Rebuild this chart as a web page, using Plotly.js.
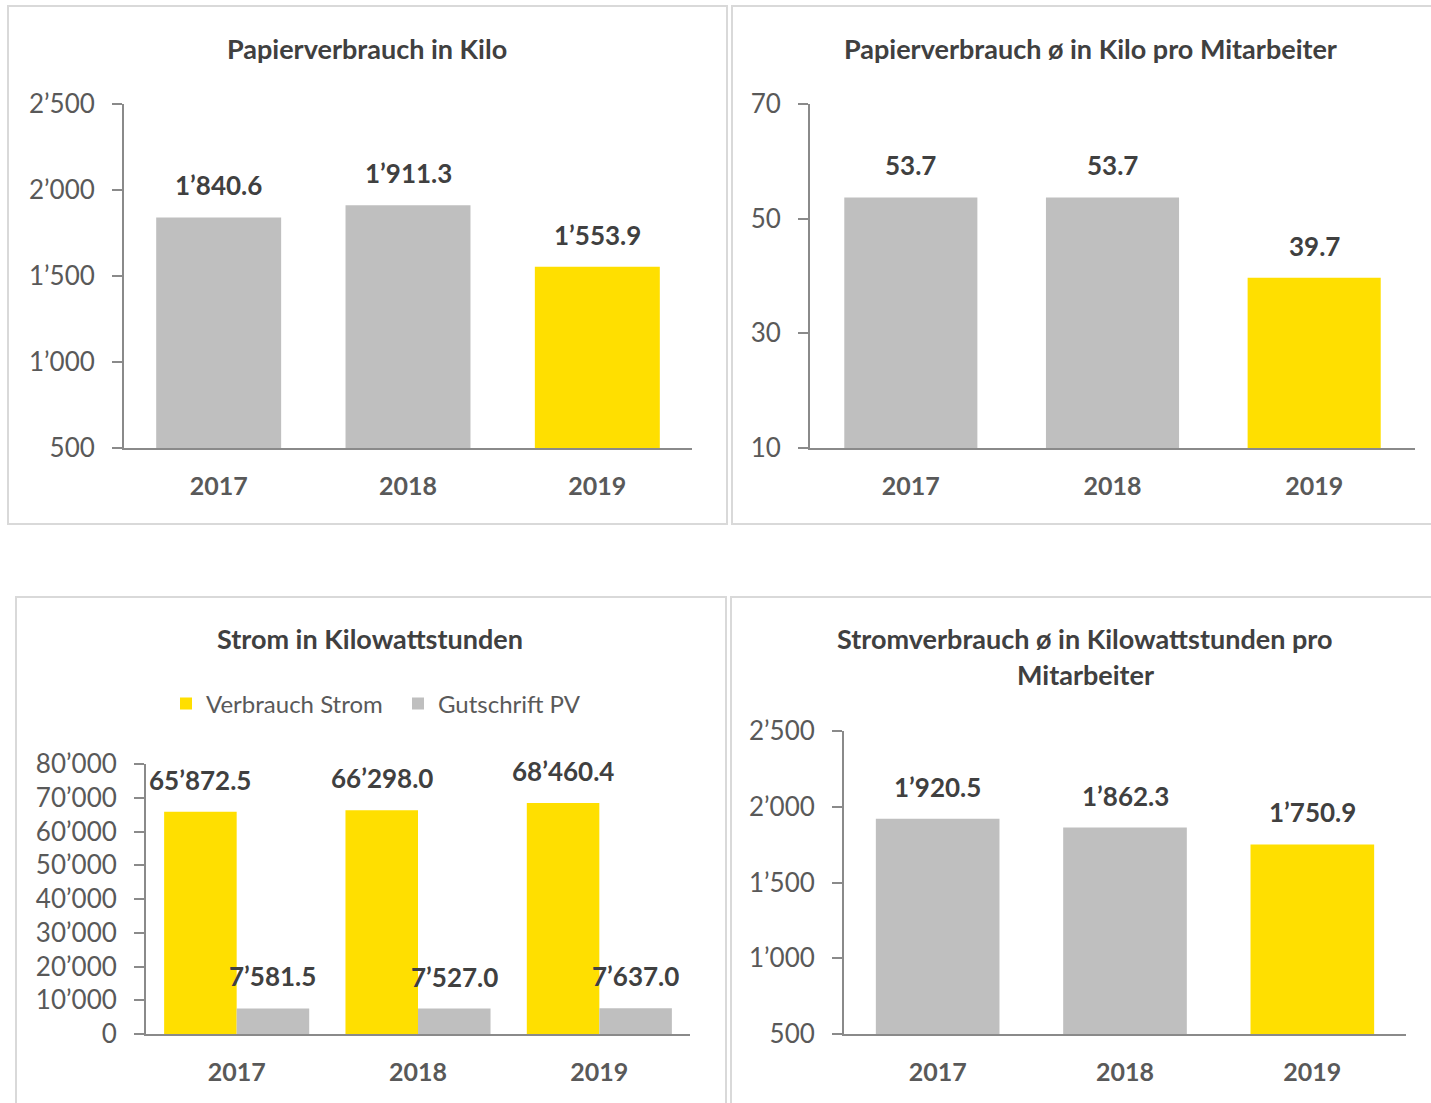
<!DOCTYPE html>
<html><head><meta charset="utf-8">
<script src="https://cdn.plot.ly/plotly-3.0.1.min.js"></script>
<style>html,body{margin:0;padding:0;background:#fff;} #chart{width:1431px;height:1103px;}</style>
</head><body><div id="chart"></div>
<script>
// ---- data ----
const years = ['2017', '2018', '2019'];
const papierKilo = [1840.6, 1911.3, 1553.9];
const papierProMitarbeiter = [53.7, 53.7, 39.7];
const stromVerbrauch = [65872.5, 66298.0, 68460.4];
const gutschriftPV = [7581.5, 7527.0, 7637.0];
const stromProMitarbeiter = [1920.5, 1862.3, 1750.9];
const seriesNames = ['Verbrauch Strom', 'Gutschrift PV'];
const titles = ['Papierverbrauch in Kilo', 'Papierverbrauch ø in Kilo pro Mitarbeiter',
  'Strom in Kilowattstunden', 'Stromverbrauch ø in Kilowattstunden pro', 'Mitarbeiter'];

// ---- style ----
const GRAY = '#BFBFBF', YELLOW = '#FFDF00';
const barColors = [GRAY, GRAY, YELLOW];
const FONT = 'Lato, "Open Sans", sans-serif';
const AXIS = '#8a8a8a';
const TICKCOL = '#595959';
const DARK = '#404040';
const W = 1431, H = 1103;
const px = x => x / W;
const py = y => 1 - y / H;
const BARGAP = 0.2;

function fmt(v) {
  const parts = v.toFixed(1).split('.');
  parts[0] = parts[0].replace(/\B(?=(\d{3})+(?!\d))/g, '\u2019');
  return parts.join('.');
}

function xax(l, r, anchor) {
  return {domain: [px(l), px(r)], anchor: anchor, type: 'category', range: [-0.5, 2.5],
    showline: true, linecolor: AXIS, linewidth: 2, ticks: '', showgrid: false, zeroline: false,
    tickfont: {family: FONT, size: 25, color: TICKCOL, weight: 'bold'}, ticklabelstandoff: 15, fixedrange: true};
}
function yax(top, bottom, range, dtick, anchor) {
  return {domain: [py(bottom), py(top)], anchor: anchor, range: range, dtick: dtick, tick0: range[0],
    showline: true, linecolor: AXIS, linewidth: 2, ticks: 'outside', ticklen: 10, tickwidth: 2, tickcolor: AXIS,
    showgrid: false, zeroline: false, tickformat: ',.0f',
    tickfont: {family: FONT, size: 26, color: TICKCOL}, ticklabelstandoff: 12, fixedrange: true};
}

const traces = [
  {type: 'bar', x: years, y: papierKilo, xaxis: 'x', yaxis: 'y', width: 0.66,
   marker: {color: barColors}, showlegend: false, hoverinfo: 'skip'},
  {type: 'bar', x: years, y: papierProMitarbeiter, xaxis: 'x2', yaxis: 'y2', width: 0.66,
   marker: {color: barColors}, showlegend: false, hoverinfo: 'skip'},
  {type: 'bar', name: seriesNames[0], x: years, y: stromVerbrauch, xaxis: 'x3', yaxis: 'y3',
   marker: {color: YELLOW}, showlegend: true, hoverinfo: 'skip'},
  {type: 'bar', name: seriesNames[1], x: years, y: gutschriftPV, xaxis: 'x3', yaxis: 'y3',
   marker: {color: GRAY}, showlegend: true, hoverinfo: 'skip'},
  {type: 'bar', x: years, y: stromProMitarbeiter, xaxis: 'x4', yaxis: 'y4', width: 0.66,
   marker: {color: barColors}, showlegend: false, hoverinfo: 'skip'}
];

const annotations = [];
const labelFont = {family: FONT, size: 26, color: DARK, weight: 'bold'};
function addLabels(vals, xr, yr, offset) {
  // x given as category index (plus group offset derived from bargap)
  vals.forEach((v, i) => annotations.push({xref: xr, yref: yr, x: i + (offset || 0), y: v,
    text: fmt(v), showarrow: false, yanchor: 'middle', yshift: 32, font: labelFont}));
}
addLabels(papierKilo, 'x', 'y');
addLabels(papierProMitarbeiter, 'x2', 'y2');
addLabels(stromVerbrauch, 'x3', 'y3', -(1 - BARGAP) / 4);
addLabels(gutschriftPV, 'x3', 'y3', (1 - BARGAP) / 4);
addLabels(stromProMitarbeiter, 'x4', 'y4');

const titleFont = {family: FONT, size: 27, color: DARK, weight: 'bold'};
const titlePos = [[367, 48], [1090, 48], [370, 638], [1085, 638], [1085, 674]];
titles.forEach((t, i) => annotations.push({xref: 'paper', yref: 'paper', x: px(titlePos[i][0]), y: py(titlePos[i][1]),
  xanchor: 'center', yanchor: 'middle', text: t, showarrow: false, font: titleFont}));

const BORDER = {type: 'rect', xref: 'paper', yref: 'paper', line: {color: '#d9d9d9', width: 2}, fillcolor: 'rgba(0,0,0,0)'};
const shapes = [
  Object.assign({x0: px(8), x1: px(727), y0: py(6), y1: py(524)}, BORDER),
  Object.assign({x0: px(732), x1: px(1440), y0: py(6), y1: py(524)}, BORDER),
  Object.assign({x0: px(16), x1: px(726), y0: py(597), y1: py(1115)}, BORDER),
  Object.assign({x0: px(731), x1: px(1440), y0: py(597), y1: py(1115)}, BORDER)
];

const layout = {
  width: W, height: H, margin: {l: 0, r: 0, t: 0, b: 0, autoexpand: false},
  paper_bgcolor: '#fff', plot_bgcolor: 'rgba(0,0,0,0)',
  separators: '.\u2019', barmode: 'group', bargap: BARGAP, bargroupgap: 0,
  font: {family: FONT, color: TICKCOL},
  xaxis: xax(124, 692, 'y'), yaxis: yax(104, 448, [500, 2500], 500, 'x'),
  xaxis2: xax(810, 1415, 'y2'), yaxis2: yax(104, 448, [10, 70], 20, 'x2'),
  xaxis3: xax(146, 690, 'y3'), yaxis3: yax(764, 1034, [0, 80000], 10000, 'x3'),
  xaxis4: xax(844, 1406, 'y4'), yaxis4: yax(731, 1034, [500, 2500], 500, 'x4'),
  legend: {orientation: 'h', x: px(166), xanchor: 'left', y: py(704), yanchor: 'middle', entrywidth: 187,
    font: {family: FONT, size: 24, color: TICKCOL}, bgcolor: 'rgba(0,0,0,0)', traceorder: 'normal'},
  annotations: annotations, shapes: shapes, hovermode: false
};

Plotly.newPlot('chart', traces, layout, {staticPlot: true, displayModeBar: false});
</script></body></html>
